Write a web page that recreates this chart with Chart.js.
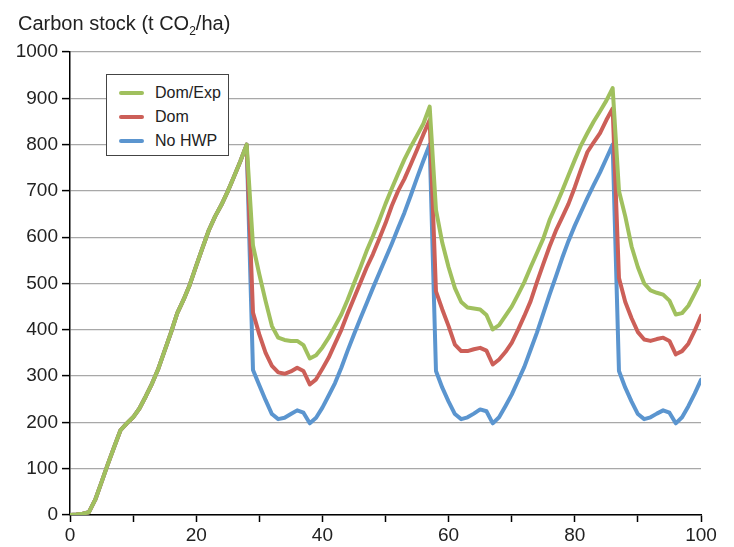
<!DOCTYPE html>
<html>
<head>
<meta charset="utf-8">
<script src="https://cdn.jsdelivr.net/npm/chart.js@4"></script>
<style>
  html, body { margin: 0; padding: 0; background: #fff; }
  #wrap { position: relative; width: 734px; height: 547px; font-family: "Liberation Sans", Arial, sans-serif; color: #222; }
  #title { position: absolute; left: 18px; top: 13px; font-size: 20px; line-height: 20px; white-space: nowrap; }
  #title sub { font-size: 12px; vertical-align: -5px; line-height: 0; }
  #legend { position: absolute; left: 106px; top: 74px; width: 121px; height: 80px; border: 1px solid #444; background: #fff; }
  .item { position: absolute; left: 0; height: 20px; }
  .item .swatch { position: absolute; left: 12px; top: 8px; width: 25px; height: 4px; border-radius: 2px; }
  .item .label { position: absolute; left: 48px; top: 0; font-size: 16px; line-height: 20px; white-space: nowrap; }
</style>
</head>
<body>
<div id="wrap">
  <canvas id="myChart" width="734" height="547"></canvas>
  <div id="title">Carbon stock (t CO<sub>2</sub>/ha)</div>
  <div id="legend"></div>
</div>
<script>
let years = [
    0, 1, 2, 3, 4, 5, 6, 7, 8, 9, 10, 11, 12, 13, 14, 15, 16, 17, 18, 19,
    20, 21, 22, 23, 24, 25, 26, 27, 28, 29, 30, 31, 32, 33, 34, 35, 36, 37, 38, 39,
    40, 41, 42, 43, 44, 45, 46, 47, 48, 49, 50, 51, 52, 53, 54, 55, 56, 57, 58, 59,
    60, 61, 62, 63, 64, 65, 66, 67, 68, 69, 70, 71, 72, 73, 74, 75, 76, 77, 78, 79,
    80, 81, 82, 83, 84, 85, 86, 87, 88, 89, 90, 91, 92, 93, 94, 95, 96, 97, 98, 99, 100
];

let domExp = [
    0, 1, 3, 6, 33, 71, 110, 147, 183, 198, 211, 230, 256, 284, 316, 355, 394, 436, 465, 498,
    538, 577, 615, 645, 670, 699, 731, 764, 800,
    582, 520, 462, 408, 383, 378, 376, 376, 367, 338, 345, 362, 383, 408, 433, 465, 500, 534, 570, 602,
    636, 672, 705, 737, 768, 795, 820, 845, 882,
    659, 588, 535, 490, 460, 448, 446, 444, 432, 401, 410, 430, 450, 476, 503, 535, 566, 597, 637, 668,
    700, 734, 767, 799, 825, 850, 872, 895, 922,
    700, 645, 580, 535, 500, 485, 480, 476, 463, 433, 436, 452, 478, 505
];

let dom = [
    0, 1, 3, 6, 33, 71, 110, 147, 183, 198, 211, 230, 256, 284, 316, 355, 394, 436, 465, 498,
    538, 577, 615, 645, 670, 699, 731, 764, 800,
    437, 390, 350, 322, 308, 305, 310, 318, 311, 282, 293, 316, 340, 370, 400, 435, 468, 501, 534, 563,
    596, 630, 668, 700, 726, 757, 789, 822, 853,
    483, 444, 408, 368, 354, 354, 358, 361, 355, 325, 336, 352, 372, 400, 430, 462, 503, 542, 580, 614,
    643, 672, 708, 747, 784, 805, 825, 853, 878,
    512, 460, 425, 395, 379, 376, 380, 383, 376, 347, 354, 370, 398, 430
];

let noHwp = [
    0, 1, 3, 6, 33, 71, 110, 147, 183, 198, 211, 230, 256, 284, 316, 355, 394, 436, 465, 498,
    538, 577, 615, 645, 670, 699, 731, 764, 800,
    313, 280, 248, 218, 207, 210, 218, 226, 221, 198, 210, 232, 258, 285, 318, 355, 390, 424, 457, 490,
    522, 554, 586, 620, 653, 690, 728, 765, 800,
    311, 275, 245, 218, 207, 211, 219, 228, 224, 198, 211, 235, 260, 290, 320, 357, 394, 435, 476, 515,
    555, 592, 625, 655, 685, 713, 740, 770, 800,
    311, 275, 245, 218, 207, 211, 219, 226, 221, 198, 211, 235, 262, 292
];

let seriesNames = ['Dom/Exp', 'Dom', 'No HWP'];
let seriesColors = ['#A0C05E', '#CC5F58', '#5B95CF'];

function toPoints(values) {
    return values.map(function (v, i) {
        return { x: years[i], y: v };
    });
}

let datasets = [domExp, dom, noHwp].map(function (values, i) {
    return {
        label: seriesNames[i],
        data: toPoints(values),
        borderColor: seriesColors[i],
        backgroundColor: seriesColors[i],
        borderWidth: 4,
        pointRadius: 0,
        tension: 0,
        borderJoinStyle: 'round',
        borderCapStyle: 'round',
        order: i // green drawn last, on top
    };
});

let legend = document.getElementById('legend');
seriesNames.forEach(function (name, i) {
    let item = document.createElement('div');
    item.className = 'item';
    item.style.top = (8 + i * 24) + 'px';
    item.innerHTML = '<div class="swatch" style="background:' + seriesColors[i] + '"></div>' +
        '<div class="label">' + name + '</div>';
    legend.appendChild(item);
});

let tickFont = { family: '"Liberation Sans", Arial, sans-serif', size: 19 };

var ctx = document.getElementById('myChart').getContext('2d');
var myChart = new Chart(ctx, {
    type: 'line',
    data: { datasets: datasets },
    options: {
        responsive: false,
        animation: false,
        layout: { padding: { top: 52, right: 33, left: 0, bottom: 0 } },
        plugins: {
            legend: { display: false },
            tooltip: { enabled: false },
            title: { display: false }
        },
        scales: {
            x: {
                type: 'linear',
                min: 0,
                max: 100,
                afterFit: function (s) { s.height = 32; },
                ticks: {
                    stepSize: 10,
                    autoSkip: false,
                    maxRotation: 0,
                    color: '#222',
                    font: tickFont,
                    padding: 2,
                    callback: function (v) { return v % 20 === 0 ? String(v) : ''; }
                },
                grid: {
                    drawOnChartArea: false,
                    drawTicks: true,
                    tickLength: 7,
                    tickColor: '#000',
                    tickWidth: 1.5
                },
                border: { display: true, color: '#000', width: 1.5 }
            },
            y: {
                min: 0,
                max: 1000,
                afterFit: function (s) { s.width = 70; },
                ticks: {
                    stepSize: 100,
                    color: '#222',
                    font: tickFont,
                    padding: 4,
                    callback: function (v) { return String(v); }
                },
                grid: {
                    color: '#A8A8A8',
                    lineWidth: 1.2,
                    tickLength: 8,
                    tickColor: '#000',
                    tickWidth: 1.5
                },
                border: { display: true, color: '#000', width: 1.5 }
            }
        }
    }
});
</script>
</body>
</html>
